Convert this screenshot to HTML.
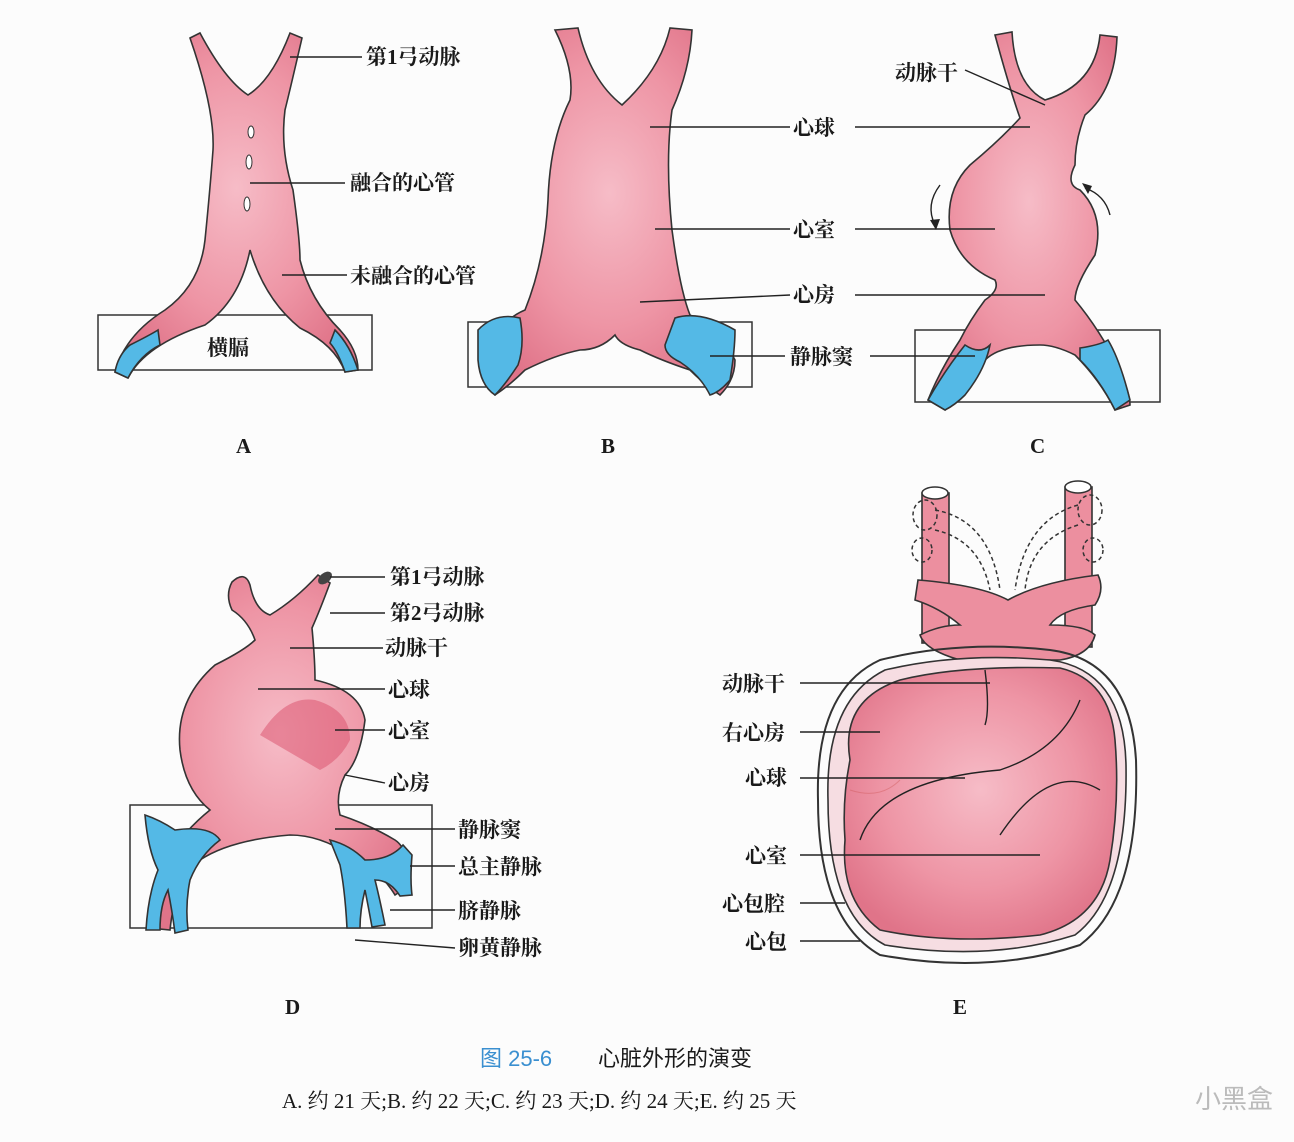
<!DOCTYPE html>
<html><head><meta charset="utf-8"><style>
html,body{margin:0;padding:0;background:#fcfcfc;}
svg{display:block}
text{font-family:"Liberation Serif","Noto Serif CJK SC","Noto Sans CJK SC",serif;font-weight:bold;fill:#1a1a1a;font-size:21px}
.p{fill:#ec8f9f;stroke:#333;stroke-width:1.6}
.b{fill:#54b9e6;stroke:#333;stroke-width:1.6}
.l{stroke:#222;stroke-width:1.4;fill:none}
.bx{fill:none;stroke:#333;stroke-width:1.5}
</style></head><body>
<svg width="1294" height="1142" viewBox="0 0 1294 1142" xmlns="http://www.w3.org/2000/svg">
<defs>
<radialGradient id="g" cx="50%" cy="45%" r="60%"><stop offset="0" stop-color="#f6bcc7"/><stop offset="0.6" stop-color="#ee95a5"/><stop offset="1" stop-color="#e07489"/></radialGradient>
</defs>
<!-- Panel A -->
<rect class="bx" x="98" y="315" width="274" height="55"/>
<path class="p" d="M190,38 L200,33 Q225,80 248,95 Q272,80 290,33 L302,38 Q290,90 285,110 Q280,150 293,190 Q300,240 300,260 Q310,300 340,330 Q358,350 358,370 L345,372 Q335,345 300,328 Q265,300 250,250 Q240,300 205,325 Q145,345 128,378 L115,372 Q125,335 165,310 Q200,285 205,240 Q210,190 213,150 Q215,110 190,38 Z" style="fill:url(#g)"/>
<path class="b" d="M130,345 Q150,335 158,330 L160,345 Q140,355 128,378 L115,372 Q118,355 130,345Z"/>
<path class="b" d="M335,330 Q350,345 358,370 L345,372 Q338,352 330,343Z"/>
<ellipse cx="251" cy="132" rx="3" ry="6" fill="#fff" stroke="#333"/>
<ellipse cx="249" cy="162" rx="3" ry="7" fill="#fff" stroke="#333"/>
<ellipse cx="247" cy="204" rx="3" ry="7" fill="#fff" stroke="#333"/>
<text x="207" y="355">横膈</text>
<line class="l" x1="290" y1="57" x2="362" y2="57"/><text x="366" y="64">第1弓动脉</text>
<line class="l" x1="250" y1="183" x2="345" y2="183"/><text x="350" y="190">融合的心管</text>
<line class="l" x1="282" y1="275" x2="347" y2="275"/><text x="350" y="283">未融合的心管</text>
<text x="236" y="453" font-size="19">A</text>
<!-- Panel B -->
<rect class="bx" x="468" y="322" width="284" height="65"/>
<path class="p" style="fill:url(#g)" d="M555,30 L578,28 Q590,80 622,105 Q660,70 670,28 L692,30 Q690,70 672,110 Q665,160 672,230 Q680,290 690,315 Q720,330 735,360 Q735,380 720,395 Q705,385 690,370 Q660,360 640,350 Q620,345 615,335 Q600,350 580,350 Q555,355 525,370 Q510,385 495,395 Q480,380 485,355 Q500,320 525,310 Q545,260 548,200 Q550,140 570,100 Q575,70 555,30Z"/>
<path class="b" d="M478,330 Q495,312 520,318 Q525,345 518,365 Q505,385 495,395 Q480,385 478,360Z"/>
<path class="b" d="M675,318 Q700,310 735,330 Q735,350 730,380 Q720,392 710,395 Q700,375 680,362 Q665,355 665,345Z"/>
<line class="l" x1="650" y1="127" x2="790" y2="127"/><text x="793" y="135">心球</text>
<line class="l" x1="655" y1="229" x2="790" y2="229"/><text x="793" y="237">心室</text>
<line class="l" x1="640" y1="302" x2="790" y2="295"/><text x="793" y="302">心房</text>
<line class="l" x1="710" y1="356" x2="785" y2="356"/><text x="790" y="364">静脉窦</text>
<text x="601" y="453" font-size="19">B</text>
<!-- Panel C -->
<rect class="bx" x="915" y="330" width="245" height="72"/>
<path class="p" style="fill:url(#g)" d="M995,35 L1012,32 Q1015,85 1045,100 Q1095,85 1100,35 L1117,37 Q1115,90 1085,115 Q1075,140 1075,165 Q1065,185 1080,190 Q1105,215 1095,255 Q1075,285 1075,300 Q1100,330 1120,370 Q1130,395 1130,405 L1115,410 Q1100,380 1075,355 Q1055,345 1040,345 Q1000,345 985,360 Q955,385 945,410 L928,400 Q940,370 960,340 Q970,320 985,300 Q1000,290 995,280 Q960,265 950,230 Q945,190 970,165 Q1000,140 1020,118 Q1010,90 995,35Z"/>
<path class="b" d="M965,345 Q980,355 990,345 Q985,370 965,395 Q955,405 945,410 L928,400 Q945,370 965,345Z"/>
<path class="b" d="M1080,348 Q1100,345 1108,340 Q1120,360 1130,400 L1115,410 Q1100,380 1080,360Z"/>
<path class="l" d="M940,185 Q925,205 935,225"/><path d="M930,220 L936,230 L940,219Z" fill="#222"/>
<path class="l" d="M1085,188 Q1105,195 1110,215"/><path d="M1082,183 L1092,186 L1088,194Z" fill="#222"/>
<line class="l" x1="965" y1="70" x2="1045" y2="105"/><text x="895" y="80">动脉干</text>
<line class="l" x1="855" y1="127" x2="1030" y2="127"/>
<line class="l" x1="855" y1="229" x2="995" y2="229"/>
<line class="l" x1="855" y1="295" x2="1045" y2="295"/>
<line class="l" x1="870" y1="356" x2="975" y2="356"/>
<text x="1030" y="453" font-size="19">C</text>
<!-- Panel D -->
<rect class="bx" x="130" y="805" width="302" height="123"/>
<path class="p" style="fill:url(#g)" d="M232,582 Q245,570 250,585 Q255,610 270,615 Q295,600 318,575 L330,583 Q320,610 312,628 Q315,660 315,680 Q360,690 365,720 Q360,760 345,775 Q335,795 340,815 Q370,825 395,840 Q410,850 410,885 L395,895 Q380,870 350,855 Q320,835 290,835 Q230,840 200,860 Q175,880 170,930 L150,928 Q155,880 165,860 Q185,830 210,810 Q185,790 180,750 Q175,700 215,665 Q245,650 255,640 Q248,620 232,610 Q225,595 232,582Z"/>
<path class="b" d="M145,815 Q160,820 175,830 Q210,825 220,840 Q200,855 190,880 Q185,905 188,930 L175,933 Q172,910 168,890 Q160,905 160,930 L146,930 Q148,895 158,870 Q148,850 145,815Z"/>
<path class="b" d="M330,840 Q350,845 365,860 Q390,860 403,845 L412,855 Q410,880 412,895 L400,896 Q390,880 375,880 Q380,900 385,925 L372,927 Q368,905 365,890 Q360,910 360,928 L347,928 Q345,890 340,865Z"/>
<path d="M260,735 Q285,695 315,700 Q350,710 350,740 Q340,760 320,770" fill="#d94d6a" opacity="0.5"/>
<ellipse cx="325" cy="578" rx="8" ry="5" fill="#444" transform="rotate(-40 325 578)"/>
<line class="l" x1="330" y1="577" x2="385" y2="577"/><text x="390" y="584">第1弓动脉</text>
<line class="l" x1="330" y1="613" x2="385" y2="613"/><text x="390" y="620">第2弓动脉</text>
<line class="l" x1="290" y1="648" x2="383" y2="648"/><text x="385" y="655">动脉干</text>
<line class="l" x1="258" y1="689" x2="385" y2="689"/><text x="388" y="697">心球</text>
<line class="l" x1="335" y1="730" x2="385" y2="730"/><text x="388" y="738">心室</text>
<line class="l" x1="345" y1="775" x2="385" y2="783"/><text x="388" y="790">心房</text>
<line class="l" x1="335" y1="829" x2="455" y2="829"/><text x="458" y="837">静脉窦</text>
<line class="l" x1="410" y1="866" x2="455" y2="866"/><text x="458" y="874">总主静脉</text>
<line class="l" x1="390" y1="910" x2="455" y2="910"/><text x="458" y="918">脐静脉</text>
<line class="l" x1="355" y1="940" x2="455" y2="948"/><text x="458" y="955">卵黄静脉</text>
<text x="285" y="1014" font-size="19">D</text>
<!-- Panel E -->
<rect x="922" y="493" width="27" height="150" class="p"/>
<rect x="1065" y="487" width="27" height="160" class="p"/>
<ellipse cx="935" cy="493" rx="13" ry="6" fill="#fff" stroke="#333" stroke-width="1.5"/>
<ellipse cx="1078" cy="487" rx="13" ry="6" fill="#fff" stroke="#333" stroke-width="1.5"/>
<path class="p" d="M918,580 Q980,585 1008,600 Q1040,582 1098,575 Q1105,590 1095,605 Q1060,610 1050,625 Q1085,625 1095,635 Q1090,655 1060,660 L960,660 Q925,650 920,635 Q940,625 960,625 Q940,608 915,600Z"/>
<g fill="none" stroke="#333" stroke-width="1.5" stroke-dasharray="4,3">
<path d="M935,510 Q990,520 1000,590"/><path d="M935,530 Q980,540 990,590"/><path d="M1078,505 Q1025,520 1015,590"/><path d="M1078,525 Q1030,540 1025,590"/>
<ellipse cx="925" cy="515" rx="12" ry="15"/><ellipse cx="1090" cy="510" rx="12" ry="15"/><ellipse cx="922" cy="550" rx="10" ry="12"/><ellipse cx="1093" cy="550" rx="10" ry="12"/>
</g>
<path d="M818,800 Q815,690 880,660 Q960,640 1050,650 Q1130,660 1136,760 Q1140,900 1080,945 Q990,975 880,955 Q818,920 818,800Z" fill="none" stroke="#333" stroke-width="2"/>
<path d="M828,800 Q825,700 885,670 Q960,652 1050,660 Q1124,670 1126,765 Q1128,895 1075,935 Q990,962 885,945 Q828,915 828,800Z" fill="#f6dde2" stroke="#333" stroke-width="1.6"/>
<path class="p" style="fill:url(#g)" d="M850,760 Q840,700 900,680 Q960,665 1060,668 Q1110,680 1115,740 Q1120,800 1110,860 Q1100,920 1040,935 Q950,945 880,930 Q840,900 845,840 Q842,800 850,760Z"/>
<path class="l" d="M985,670 Q990,710 985,725 M860,840 Q880,780 1000,770 Q1060,750 1080,700 M1000,835 Q1050,760 1100,790"/>
<path d="M850,790 Q880,800 900,780" fill="none" stroke="#c55" stroke-width="1" opacity="0.4"/>
<line class="l" x1="800" y1="683" x2="990" y2="683"/><text x="722" y="691">动脉干</text>
<line class="l" x1="800" y1="732" x2="880" y2="732"/><text x="722" y="740">右心房</text>
<line class="l" x1="800" y1="778" x2="965" y2="778"/><text x="745" y="785">心球</text>
<line class="l" x1="800" y1="855" x2="1040" y2="855"/><text x="745" y="863">心室</text>
<line class="l" x1="800" y1="903" x2="845" y2="903"/><text x="722" y="911">心包腔</text>
<line class="l" x1="800" y1="941" x2="860" y2="941"/><text x="745" y="949">心包</text>
<text x="953" y="1014" font-size="19">E</text>
<!-- caption -->
<text x="480" y="1066" style="font-family:'Liberation Sans','Noto Sans CJK SC',sans-serif;font-weight:normal;fill:#3a8fd0;font-size:22px">图 25-6</text>
<text x="598" y="1066" style="font-family:'Liberation Sans','Noto Sans CJK SC',sans-serif;font-weight:normal;font-size:22px">心脏外形的演变</text>
<text x="282" y="1108" style="font-weight:normal;font-size:21px">A. 约 21 天;B. 约 22 天;C. 约 23 天;D. 约 24 天;E. 约 25 天</text>
<text x="1195" y="1108" style="font-family:'Liberation Sans','Noto Sans CJK SC',sans-serif;font-weight:normal;fill:#bbb;font-size:26px">小黑盒</text>
</svg>
</body></html>
